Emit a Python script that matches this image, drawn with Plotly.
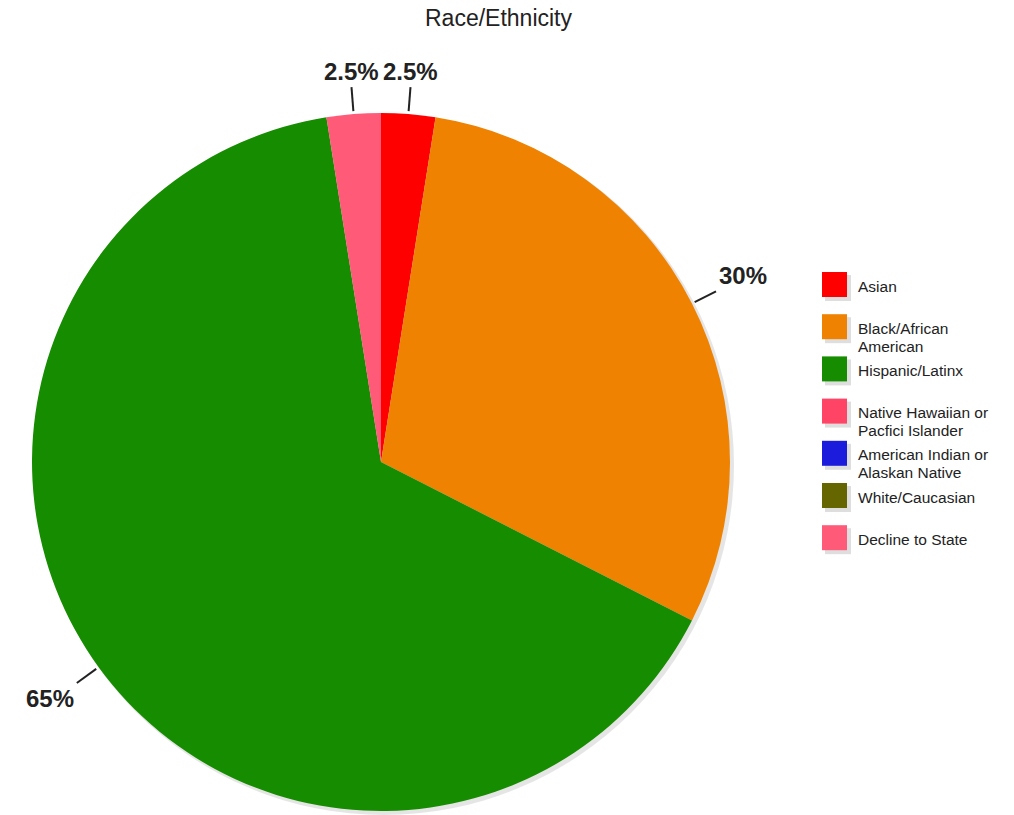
import math
import plotly.graph_objects as go

# ---- data ----
categories = ["Asian", "Black/African<br>American", "Hispanic/Latinx",
              "Native Hawaiian or<br>Pacfici Islander", "American Indian or<br>Alaskan Native",
              "White/Caucasian", "Decline to State"]
values = [2.5, 30, 65, 0, 0, 0, 2.5]
value_labels = ["2.5%", "30%", "65%", "", "", "", "2.5%"]
colors = ["#ff0000", "#ef8200", "#168c00", "#ff4466", "#1c1cdd", "#666600", "#ff5a78"]
title_text = "Race/Ethnicity"

W, H = 1014, 815
OFF = 0  # page body margin removed via post_script
FONT = "Arial, Liberation Sans, sans-serif"

# pie placement (page pixels)
cx, cy, R = 381, 462, 349

def px(x):
    return (x - OFF) / W

def py(y):
    return (H - (y - OFF)) / H

dom_x = [px(cx - R), px(cx + R)]
dom_y = [py(cy + R), py(cy - R)]

fig = go.Figure()
fig.add_trace(go.Pie(
    labels=categories, values=values, sort=False, direction="clockwise", rotation=0,
    marker=dict(colors=colors, line=dict(width=0)),
    textinfo="none", hoverinfo="label+percent", showlegend=False,
    domain=dict(x=dom_x, y=dom_y),
))

shapes = []
annotations = []

# pie shadow
shapes.append(dict(type="circle", xref="paper", yref="paper", layer="below",
                   x0=px(cx - R + 2), x1=px(cx + R + 4), y0=py(cy + R + 4), y1=py(cy - R + 2),
                   fillcolor="rgba(0,0,0,0.10)", line=dict(width=0)))

# labels with leader lines, computed from cumulative values
total = sum(values)
cum = 0.0
for v, lab in zip(values, value_labels):
    if v > 0 and lab:
        mid = (cum + v / 2) / total * 2 * math.pi
        dx, dy = math.sin(mid), -math.cos(mid)
        x1, y1 = cx + dx * (R + 3), cy + dy * (R + 3)
        x2, y2 = cx + dx * (R + 27), cy + dy * (R + 27)
        shapes.append(dict(type="line", xref="paper", yref="paper",
                           x0=px(x1), y0=py(y1), x1=px(x2), y1=py(y2),
                           line=dict(color="#222222", width=2)))
        xt, yt = cx + dx * (R + 28), cy + dy * (R + 27)
        xa = "left" if dx > 0.3 else ("right" if dx < -0.3 else "center")
        ya = "bottom" if dy < -0.3 else ("top" if dy > 0.3 else "middle")
        annotations.append(dict(x=px(xt), y=py(yt), xref="paper", yref="paper",
                                text="<b>%s</b>" % lab, showarrow=False,
                                xanchor=xa, yanchor=ya,
                                font=dict(family=FONT, size=24, color="#222222")))
    cum += v

# manual legend
lx, ly0, step, sq = 822, 272, 42.2, 25
for i, (cat, col) in enumerate(zip(categories, colors)):
    top = ly0 + i * step
    shapes.append(dict(type="rect", xref="paper", yref="paper",
                       x0=px(lx + 3), x1=px(lx + sq + 4), y0=py(top + sq + 4), y1=py(top + 3),
                       fillcolor="rgba(0,0,0,0.13)", line=dict(width=0)))
    shapes.append(dict(type="rect", xref="paper", yref="paper",
                       x0=px(lx), x1=px(lx + sq), y0=py(top + sq), y1=py(top),
                       fillcolor=col, line=dict(width=0)))
    for j, line in enumerate(cat.split("<br>")):
        annotations.append(dict(x=px(lx + 34), y=py(top + 14 + j * 18), xref="paper", yref="paper",
                                text=line, showarrow=False, xanchor="left", yanchor="middle",
                                font=dict(family=FONT, size=15.5, color="#222222")))

# title
annotations.append(dict(x=px(499), y=py(18), xref="paper", yref="paper", text=title_text,
                        showarrow=False, xanchor="center", yanchor="middle",
                        font=dict(family=FONT, size=23, color="#222222")))

fig.update_layout(width=W, height=H, margin=dict(l=0, r=0, t=0, b=0),
                  paper_bgcolor="white", plot_bgcolor="white",
                  shapes=shapes, annotations=annotations)

fig.write_html("out.html", config={"displayModeBar": False},
               post_script="document.body.style.margin='0px';document.body.style.overflow='hidden';")
